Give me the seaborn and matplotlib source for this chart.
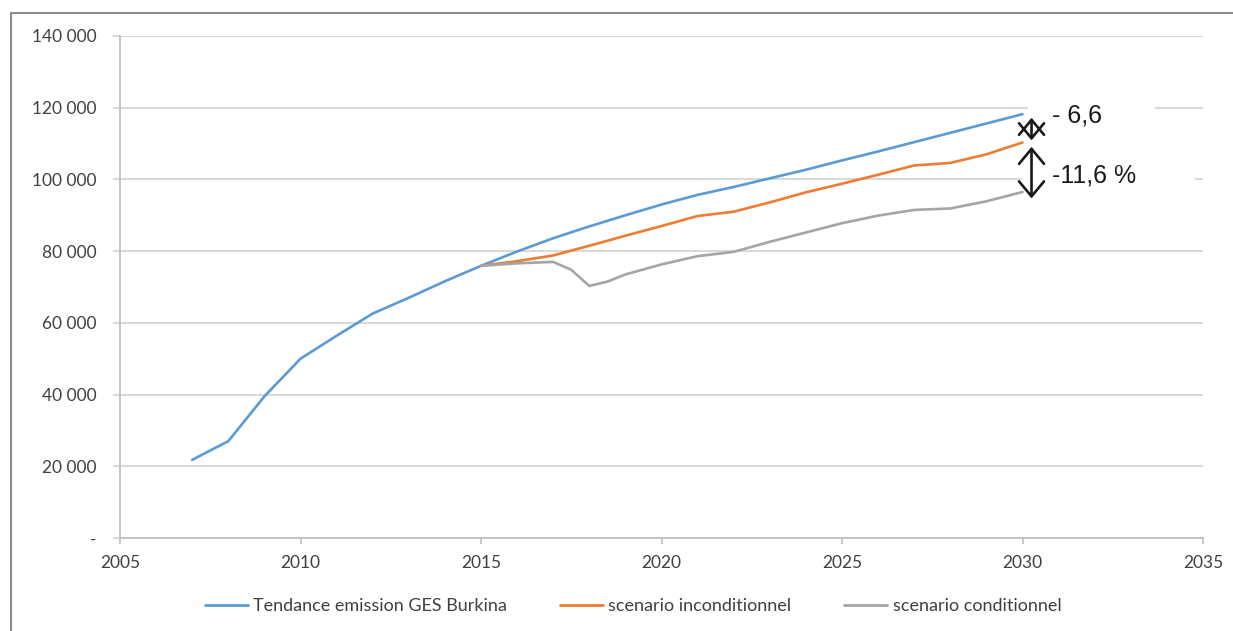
import matplotlib
matplotlib.use("Agg")
import matplotlib.pyplot as plt
import matplotlib.ticker as mticker
from matplotlib.patches import Rectangle
from matplotlib.lines import Line2D
import pandas as pd
import seaborn as sns

# données (Gg CO2 eq)
years_base = list(range(2007, 2031))
tendance = [21800, 27000, 39500, 50000, 56400, 62600, 67000, 71600, 75900,
            79900, 83600, 86900, 90000, 93000, 95700, 97900, 100300,
            102700, 105300, 107800, 110400, 113000, 115600, 118200]

years_scen = list(range(2015, 2031))
inconditionnel = [75900, 77200, 78800, 81500, 84300, 87000, 89800, 91000,
                  93600, 96400, 98800, 101300, 103900, 104600, 107000, 110300]

years_cond = [2015, 2016, 2017, 2017.5, 2018, 2018.5, 2019, 2020, 2021, 2022,
              2023, 2024, 2025, 2026, 2027, 2028, 2029, 2030]
conditionnel = [75900, 76600, 77000, 74800, 70300, 71500, 73500, 76300, 78600,
                79800, 82600, 85200, 87800, 89900, 91500, 91900, 93900, 96500]

labels = ["Tendance emission GES Burkina", "scenario inconditionnel",
          "scenario conditionnel"]
colors = ["#5B9BD5", "#ED7D31", "#A5A5A5"]

df = pd.concat([
    pd.DataFrame({"annee": years_base, "valeur": tendance, "serie": labels[0]}),
    pd.DataFrame({"annee": years_scen, "valeur": inconditionnel, "serie": labels[1]}),
    pd.DataFrame({"annee": years_cond, "valeur": conditionnel, "serie": labels[2]}),
])

sns.set_theme(style="white")
plt.rcParams["font.family"] = ["Lato", "DejaVu Sans"]

fig = plt.figure(figsize=(12.33, 6.31), dpi=100)
ax = fig.add_axes([120 / 1233, 1 - 538 / 631, 1083 / 1233, 502 / 631])

sns.lineplot(data=df, x="annee", y="valeur", hue="serie", hue_order=labels,
             palette=colors, linewidth=1.9, ax=ax, legend=False, zorder=3)

ax.set_xlim(2005, 2035)
ax.set_ylim(0, 140000)
ax.xaxis.set_major_locator(mticker.MultipleLocator(5))
ax.yaxis.set_major_locator(mticker.MultipleLocator(20000))
ax.yaxis.set_major_formatter(mticker.FuncFormatter(
    lambda v, p: "-" if v == 0 else f"{int(v):,}".replace(",", " ")))
ax.set_xlabel("")
ax.set_ylabel("")

ax.grid(axis="y", color="#d9d9d9", linewidth=1.5, zorder=0)
ax.set_axisbelow(True)
for s in ["top", "right"]:
    ax.spines[s].set_visible(False)
for s in ["left", "bottom"]:
    ax.spines[s].set_color("#c0c0c0")
    ax.spines[s].set_linewidth(1.3)
ax.tick_params(axis="y", which="major", left=True, length=5, width=1.5,
               color="#d9d9d9", pad=12, labelsize=12.5, labelcolor="#404040")
ax.tick_params(axis="x", which="major", bottom=True, length=4, width=1.2,
               color="#c0c0c0", pad=8, labelsize=12.5, labelcolor="#404040")

# zones blanches derrière les annotations
ax.add_patch(Rectangle((0.838, 0.79), 0.118, 0.09, transform=ax.transAxes,
                       facecolor="white", edgecolor="none", zorder=1))
ax.add_patch(Rectangle((0.833, 0.67), 0.16, 0.10, transform=ax.transAxes,
                       facecolor="white", edgecolor="none", zorder=1))

# doubles flèches d'écart
arrow = dict(arrowstyle="<->,head_length=0.9,head_width=0.75",
             color="#1a1a1a", lw=1.9, shrinkA=0, shrinkB=0)
ax.annotate("", xy=(2030.25, tendance[-1] - 1000),
            xytext=(2030.25, inconditionnel[-1] + 600),
            arrowprops=arrow, zorder=4)
ax.annotate("", xy=(2030.25, inconditionnel[-1] - 1200),
            xytext=(2030.25, conditionnel[-1] - 1800),
            arrowprops=arrow, zorder=4)
ax.text(0.861, 0.842, "- 6,6", transform=ax.transAxes, fontsize=18,
        family=["Liberation Sans", "DejaVu Sans"], color="#1a1a1a",
        va="center", ha="left", zorder=5)
ax.text(0.861, 0.722, "-11,6 %", transform=ax.transAxes, fontsize=18,
        family=["Liberation Sans", "DejaVu Sans"], color="#1a1a1a",
        va="center", ha="left", zorder=5)

handles = [Line2D([], [], color=c, linewidth=2) for c in colors]
fig.legend(handles, labels, loc="center", bbox_to_anchor=(633 / 1233, 1 - 606 / 631),
           ncol=3, frameon=False, fontsize=13, handlelength=2.4,
           handletextpad=0.3, columnspacing=2.9, labelcolor="#404040")

# cadre extérieur (haut et gauche)
fig.add_artist(Line2D([11 / 1233, 1], [1 - 13 / 631, 1 - 13 / 631],
                      transform=fig.transFigure, color="#8c8c8c", linewidth=1.5))
fig.add_artist(Line2D([11 / 1233, 11 / 1233], [0, 1 - 13 / 631],
                      transform=fig.transFigure, color="#8c8c8c", linewidth=1.5))

fig.savefig("out.png", dpi=100)
